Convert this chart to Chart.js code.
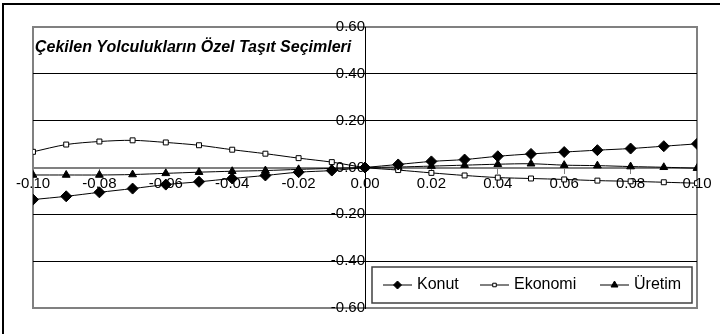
<!DOCTYPE html>
<html>
<head>
<meta charset="utf-8">
<title>Çekilen Yolculukların Özel Taşıt Seçimleri</title>
<script src="https://cdn.jsdelivr.net/npm/chart.js@4/dist/chart.umd.min.js"></script>
<style>
  html, body { margin: 0; padding: 0; background: #fff; }
  canvas { display: block; }
</style>
</head>
<body>
<canvas id="chart" width="720" height="334"></canvas>
<script>
(() => {
  'use strict';

  const xValues = [-0.10, -0.09, -0.08, -0.07, -0.06, -0.05, -0.04, -0.03, -0.02, -0.01, 0.00,
    0.01, 0.02, 0.03, 0.04, 0.05, 0.06, 0.07, 0.08, 0.09, 0.10];
  const konut = [-0.137, -0.123, -0.106, -0.090, -0.073, -0.061, -0.047, -0.034, -0.020, -0.013, 0.000,
    0.013, 0.026, 0.034, 0.048, 0.058, 0.066, 0.074, 0.081, 0.091, 0.101];
  const ekonomi = [0.067, 0.098, 0.111, 0.116, 0.107, 0.095, 0.076, 0.059, 0.040, 0.023, 0.000,
    -0.011, -0.023, -0.034, -0.043, -0.047, -0.051, -0.056, -0.059, -0.063, -0.067];
  const uretim = [-0.032, -0.032, -0.032, -0.030, -0.025, -0.020, -0.016, -0.013, -0.008, -0.004, 0.000,
    0.002, 0.006, 0.010, 0.014, 0.016, 0.010, 0.008, 0.004, 0.001, -0.003];
  const seriesNames = ['Konut', 'Ekonomi', 'Üretim'];
  const chartTitle = 'Çekilen Yolculukların Özel Taşıt Seçimleri';

  const FONT = '"Liberation Sans", Arial, sans-serif';
  const toPoints = arr => arr.map((y, i) => ({ x: xValues[i], y }));

  const styles = [
    { pointStyle: 'rectRot', pointRadius: 5.5, backgroundColor: '#000' },
    { pointStyle: 'rect', pointRadius: 3.5, backgroundColor: '#fff' },
    { pointStyle: 'triangle', pointRadius: 4.5, backgroundColor: '#000' }
  ];

  const datasets = [konut, ekonomi, uretim].map((arr, i) => ({
    label: seriesNames[i],
    data: toPoints(arr),
    borderColor: '#000',
    borderWidth: 1,
    pointBorderColor: '#000',
    pointBorderWidth: 1,
    pointBackgroundColor: styles[i].backgroundColor,
    pointStyle: styles[i].pointStyle,
    pointRadius: styles[i].pointRadius,
    tension: 0.3,
    fill: false
  }));

  // frame, plot border, title and legend box
  const decor = {
    id: 'decor',
    beforeDraw(chart) {
      const { ctx, chartArea: a } = chart;
      ctx.save();
      ctx.fillStyle = '#fff';
      ctx.fillRect(0, 0, chart.width, chart.height);
      ctx.strokeStyle = '#000';
      ctx.lineWidth = 2;
      ctx.strokeRect(3, 4, chart.width + 10, chart.height + 10);
      ctx.strokeStyle = '#808080';
      ctx.lineWidth = 2;
      ctx.strokeRect(a.left, a.top, a.right - a.left, a.bottom - a.top);
      ctx.restore();
    },
    afterDraw(chart) {
      const { ctx } = chart;
      ctx.save();
      ctx.fillStyle = '#000';
      ctx.font = `italic bold 16px ${FONT}`;
      ctx.textBaseline = 'middle';
      ctx.fillText(chartTitle, 35, 48);

      // legend
      const box = { x: 372, y: 267, w: 320, h: 36 };
      ctx.fillStyle = '#fff';
      ctx.fillRect(box.x, box.y, box.w, box.h);
      ctx.strokeStyle = '#404040';
      ctx.lineWidth = 1.5;
      ctx.strokeRect(box.x, box.y, box.w, box.h);
      const itemX = [383, 480, 600];
      const cy = box.y + box.h / 2;
      ctx.font = `16px ${FONT}`;
      chart.data.datasets.forEach((ds, i) => {
        const x0 = itemX[i];
        ctx.strokeStyle = '#000';
        ctx.lineWidth = 1;
        ctx.beginPath();
        ctx.moveTo(x0, cy);
        ctx.lineTo(x0 + 29, cy);
        ctx.stroke();
        ctx.fillStyle = ds.pointBackgroundColor;
        ctx.strokeStyle = '#000';
        const r = i === 1 ? 2.5 : 4;
        Chart.helpers.drawPoint(ctx, { pointStyle: ds.pointStyle, radius: r, borderWidth: 1 }, x0 + 14.5, cy);
        ctx.fillStyle = '#000';
        ctx.fillText(ds.label, x0 + 34, cy);
      });
      ctx.restore();
    }
  };

  new Chart(document.getElementById('chart'), {
    type: 'line',
    data: { datasets },
    plugins: [decor],
    options: {
      responsive: false,
      animation: false,
      layout: { padding: { left: 33, right: 23, top: 27, bottom: 26 } },
      plugins: {
        legend: { display: false },
        tooltip: { enabled: false },
        title: { display: false }
      },
      scales: {
        x: {
          type: 'linear',
          position: { y: 0 },
          min: -0.1,
          max: 0.1,
          ticks: {
            stepSize: 0.02,
            color: '#000',
            font: { family: FONT, size: 15 },
            padding: 2,
            maxRotation: 0,
            callback: v => v.toFixed(2)
          },
          grid: { drawOnChartArea: false, drawTicks: true, tickLength: 5, color: '#808080' },
          border: { color: '#808080', width: 2 }
        },
        y: {
          type: 'linear',
          position: { x: 0 },
          min: -0.6,
          max: 0.6,
          ticks: {
            stepSize: 0.2,
            color: '#000',
            font: { family: FONT, size: 15 },
            padding: 3,
            callback: v => v.toFixed(2)
          },
          grid: {
            color: c => (Math.abs(c.tick.value) < 1e-9 || Math.abs(Math.abs(c.tick.value) - 0.6) < 1e-9) ? '#808080' : '#000',
            lineWidth: c => Math.abs(c.tick.value) < 1e-9 ? 2 : 1,
            tickLength: 5
          },
          border: { color: '#000', width: 1 }
        }
      }
    }
  });
})();
</script>
</body>
</html>
